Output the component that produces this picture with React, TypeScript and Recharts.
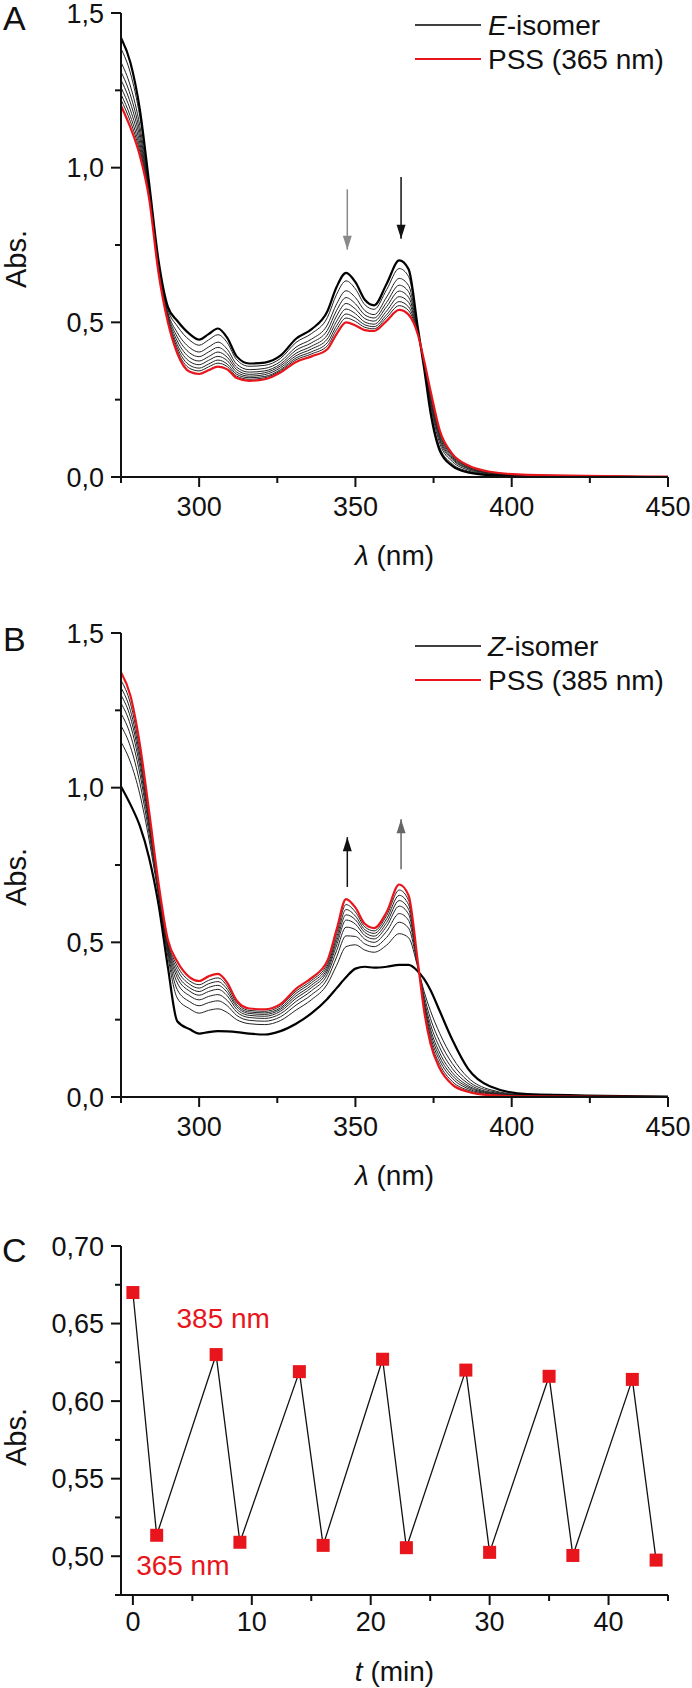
import React from 'react';
import { LineChart, Line, XAxis, YAxis, ReferenceDot } from 'recharts';

const FONT = '"Liberation Sans", Arial, Helvetica, sans-serif';
const RED = '#e8161c';
const INK = '#111111';
const FS = 27;
const LEG_FS = 28;

// ---------- shared wavelength grid (nm) ----------
const WL = [275, 278, 281, 284, 287, 290, 293, 297, 300, 303, 306, 309, 312, 316, 321, 326, 331, 336, 341, 344, 347, 350, 353, 356, 360, 364, 367, 370, 372, 374, 377, 381, 386, 393, 405, 450];

// ---------- Panel A: E-isomer -> PSS (365 nm) ----------
const A_E = [1.42, 1.34, 1.19, 0.95, 0.70, 0.55, 0.505, 0.462, 0.444, 0.462, 0.480, 0.450, 0.390, 0.367, 0.370, 0.392, 0.447, 0.478, 0.535, 0.615, 0.660, 0.630, 0.573, 0.555, 0.625, 0.700, 0.672, 0.480, 0.350, 0.210, 0.085, 0.036, 0.015, 0.006, 0.002, 0.000];
const A_MID_1 = [1.385, 1.306, 1.166, 0.942, 0.694, 0.542, 0.488, 0.442, 0.426, 0.443, 0.460, 0.434, 0.379, 0.358, 0.361, 0.383, 0.435, 0.464, 0.515, 0.591, 0.634, 0.608, 0.557, 0.542, 0.606, 0.674, 0.648, 0.477, 0.354, 0.221, 0.095, 0.042, 0.019, 0.008, 0.003, 0.000];
const A_MID_2 = [1.341, 1.264, 1.136, 0.932, 0.686, 0.532, 0.467, 0.418, 0.404, 0.420, 0.436, 0.413, 0.365, 0.347, 0.351, 0.373, 0.420, 0.446, 0.491, 0.560, 0.602, 0.580, 0.538, 0.525, 0.582, 0.642, 0.619, 0.473, 0.359, 0.235, 0.108, 0.050, 0.023, 0.010, 0.004, 0.000];
const A_MID_3 = [1.310, 1.235, 1.115, 0.925, 0.680, 0.525, 0.453, 0.401, 0.389, 0.404, 0.419, 0.399, 0.355, 0.339, 0.343, 0.365, 0.410, 0.434, 0.474, 0.539, 0.580, 0.560, 0.524, 0.514, 0.565, 0.620, 0.599, 0.470, 0.363, 0.245, 0.118, 0.056, 0.027, 0.012, 0.005, 0.000];
const A_MID_4 = [1.284, 1.210, 1.097, 0.919, 0.675, 0.519, 0.440, 0.386, 0.375, 0.389, 0.404, 0.387, 0.347, 0.332, 0.337, 0.359, 0.400, 0.423, 0.459, 0.521, 0.561, 0.543, 0.512, 0.504, 0.551, 0.601, 0.581, 0.468, 0.366, 0.253, 0.125, 0.060, 0.029, 0.013, 0.005, 0.001];
const A_MID_5 = [1.259, 1.187, 1.080, 0.913, 0.671, 0.513, 0.428, 0.373, 0.363, 0.377, 0.390, 0.376, 0.339, 0.326, 0.331, 0.353, 0.392, 0.414, 0.446, 0.504, 0.543, 0.528, 0.501, 0.494, 0.537, 0.583, 0.565, 0.465, 0.368, 0.261, 0.132, 0.064, 0.032, 0.014, 0.006, 0.001];
const A_MID_6 = [1.237, 1.166, 1.065, 0.908, 0.667, 0.508, 0.418, 0.361, 0.352, 0.365, 0.378, 0.365, 0.332, 0.321, 0.325, 0.347, 0.385, 0.405, 0.434, 0.489, 0.527, 0.514, 0.492, 0.486, 0.525, 0.567, 0.550, 0.463, 0.371, 0.268, 0.139, 0.068, 0.034, 0.015, 0.006, 0.001];
const A_MID_7 = [1.220, 1.149, 1.053, 0.904, 0.664, 0.504, 0.409, 0.351, 0.343, 0.356, 0.368, 0.357, 0.326, 0.316, 0.321, 0.343, 0.379, 0.398, 0.424, 0.477, 0.514, 0.503, 0.484, 0.479, 0.516, 0.554, 0.538, 0.462, 0.373, 0.274, 0.144, 0.071, 0.036, 0.016, 0.007, 0.001];
const A_PSS = [1.20, 1.13, 1.04, 0.90, 0.66, 0.50, 0.40, 0.34, 0.333, 0.345, 0.357, 0.348, 0.320, 0.311, 0.316, 0.338, 0.372, 0.390, 0.413, 0.463, 0.500, 0.490, 0.475, 0.472, 0.505, 0.540, 0.525, 0.460, 0.375, 0.280, 0.150, 0.075, 0.038, 0.017, 0.007, 0.001];

// ---------- Panel B: Z-isomer -> PSS (385 nm) ----------
const B_Z = [1.004, 0.946, 0.877, 0.773, 0.623, 0.420, 0.245, 0.219, 0.205, 0.210, 0.213, 0.212, 0.210, 0.205, 0.202, 0.213, 0.237, 0.271, 0.317, 0.352, 0.387, 0.415, 0.421, 0.418, 0.421, 0.427, 0.427, 0.406, 0.381, 0.346, 0.277, 0.185, 0.092, 0.035, 0.009, 0.001];
const B_MID_1 = [1.347, 1.273, 1.123, 0.912, 0.687, 0.502, 0.424, 0.375, 0.363, 0.377, 0.385, 0.358, 0.305, 0.280, 0.277, 0.294, 0.342, 0.377, 0.431, 0.529, 0.622, 0.598, 0.550, 0.537, 0.587, 0.669, 0.636, 0.431, 0.284, 0.185, 0.105, 0.050, 0.022, 0.008, 0.002, 0.000];
const B_MID_2 = [1.323, 1.250, 1.106, 0.903, 0.683, 0.496, 0.412, 0.364, 0.352, 0.366, 0.373, 0.348, 0.298, 0.275, 0.272, 0.288, 0.335, 0.370, 0.423, 0.516, 0.606, 0.585, 0.541, 0.529, 0.576, 0.652, 0.622, 0.429, 0.291, 0.196, 0.117, 0.060, 0.027, 0.010, 0.003, 0.000];
const B_MID_3 = [1.299, 1.228, 1.089, 0.893, 0.678, 0.490, 0.399, 0.353, 0.341, 0.354, 0.361, 0.338, 0.292, 0.270, 0.267, 0.283, 0.327, 0.362, 0.415, 0.504, 0.589, 0.573, 0.532, 0.520, 0.564, 0.635, 0.607, 0.428, 0.298, 0.208, 0.129, 0.069, 0.032, 0.012, 0.003, 0.000];
const B_MID_4 = [1.273, 1.203, 1.070, 0.882, 0.673, 0.484, 0.386, 0.342, 0.329, 0.341, 0.348, 0.327, 0.284, 0.264, 0.261, 0.277, 0.319, 0.354, 0.407, 0.491, 0.572, 0.559, 0.522, 0.511, 0.552, 0.617, 0.591, 0.426, 0.305, 0.220, 0.142, 0.079, 0.037, 0.014, 0.004, 0.000];
const B_MID_5 = [1.240, 1.171, 1.047, 0.869, 0.667, 0.476, 0.369, 0.327, 0.314, 0.325, 0.331, 0.312, 0.275, 0.257, 0.254, 0.269, 0.309, 0.344, 0.396, 0.474, 0.549, 0.541, 0.510, 0.500, 0.536, 0.593, 0.571, 0.423, 0.314, 0.235, 0.159, 0.092, 0.044, 0.016, 0.005, 0.000];
const B_MID_6 = [1.200, 1.133, 1.017, 0.852, 0.660, 0.467, 0.347, 0.308, 0.295, 0.305, 0.311, 0.295, 0.264, 0.248, 0.245, 0.259, 0.297, 0.331, 0.382, 0.453, 0.521, 0.519, 0.495, 0.486, 0.516, 0.565, 0.546, 0.420, 0.326, 0.254, 0.179, 0.108, 0.052, 0.020, 0.005, 0.000];
const B_MID_7 = [1.148, 1.083, 0.980, 0.831, 0.650, 0.454, 0.320, 0.285, 0.271, 0.280, 0.285, 0.273, 0.250, 0.237, 0.234, 0.247, 0.281, 0.315, 0.365, 0.426, 0.486, 0.492, 0.475, 0.468, 0.491, 0.528, 0.515, 0.417, 0.340, 0.279, 0.205, 0.128, 0.063, 0.024, 0.006, 0.000];
const B_PSS = [1.373, 1.298, 1.142, 0.923, 0.692, 0.508, 0.438, 0.387, 0.375, 0.390, 0.398, 0.369, 0.312, 0.286, 0.283, 0.300, 0.350, 0.385, 0.440, 0.542, 0.640, 0.612, 0.560, 0.546, 0.598, 0.687, 0.652, 0.433, 0.277, 0.173, 0.092, 0.040, 0.017, 0.006, 0.002, 0.000];

// ---------- arrows (x in nm, start/end Abs.) ----------
const A_ARROW_X = [347.4, 364.6];
const A_ARROW_FROM = [0.93, 0.97];
const A_ARROW_TO = [0.735, 0.77];
const B_ARROW_X = [347.4, 364.6];
const B_ARROW_FROM = [0.679, 0.736];
const B_ARROW_TO = [0.84, 0.898];

// ---------- Panel C: switching cycles ----------
const C_T = [0, 2, 7, 9, 14, 16, 21, 23, 28, 30, 35, 37, 42, 44];
const C_ABS = [0.670, 0.5135, 0.630, 0.509, 0.619, 0.507, 0.627, 0.5055, 0.620, 0.5025, 0.616, 0.5005, 0.614, 0.4975];

// ---------- ticks ----------
const SPEC_X_TICKS = [275, 300, 325, 350, 375, 400, 425, 450];
const SPEC_Y_TICKS = [0, 0.25, 0.5, 0.75, 1, 1.25, 1.5];
const C_X_TICKS = [0, 5, 10, 15, 20, 25, 30, 35, 40, 45];
const C_Y_TICKS = [0.475, 0.5, 0.525, 0.55, 0.575, 0.6, 0.625, 0.65, 0.675, 0.7];

const toPts = (xs: number[], ys: number[]) => xs.map((x, i) => ({ x, y: ys[i] }));
const comma = (d: number) => (v: number) => v.toFixed(d).replace('.', ',');
const isMult = (step: number) => (v: number) => Math.abs(v / step - Math.round(v / step)) < 1e-6;

function makeXTick(isMajor: (v: number) => boolean, fmt: (v: number) => string, labelDy: number) {
  return (props: any) => {
    const { x, y, payload } = props;
    const v = payload.value;
    const m = isMajor(v);
    return (
      <g>
        <line x1={x} y1={y} x2={x} y2={y + (m ? 10 : 6)} stroke={INK} strokeWidth={2} />
        {m ? (
          <text x={x} y={y + labelDy} textAnchor="middle" fontFamily={FONT} fontSize={FS} fill={INK}>
            {fmt(v)}
          </text>
        ) : null}
      </g>
    );
  };
}

function makeYTick(isMajor: (v: number) => boolean, fmt: (v: number) => string) {
  return (props: any) => {
    const { x, y, payload } = props;
    const v = payload.value;
    const m = isMajor(v);
    return (
      <g>
        <line x1={x} y1={y} x2={x - (m ? 10 : 6)} y2={y} stroke={INK} strokeWidth={2} />
        {m ? (
          <text x={x - 17} y={y + 9.5} textAnchor="end" fontFamily={FONT} fontSize={FS} fill={INK}>
            {fmt(v)}
          </text>
        ) : null}
      </g>
    );
  };
}

const arrowDot = (dir: 'up' | 'down', color: string) => (props: any) => {
  const { cx, cy, index } = props;
  if (index !== 1 || cx == null || cy == null) return <g key={`ad${index}`} />;
  const h = 14;
  const w = 4.5;
  const d =
    dir === 'down'
      ? `M${cx},${cy} L${cx - w},${cy - h} L${cx + w},${cy - h} Z`
      : `M${cx},${cy} L${cx - w},${cy + h} L${cx + w},${cy + h} Z`;
  return <path key={`ad${index}`} d={d} fill={color} stroke="none" />;
};

const squareDot = (props: any) => {
  const { cx, cy, index } = props;
  if (cx == null || cy == null) return <g key={`sq${index}`} />;
  return <rect key={`sq${index}`} x={cx - 6.5} y={cy - 6.5} width={13} height={13} fill={RED} />;
};

type Curve = { ys: number[]; color: string; width: number };

function SpectrumChart({ curves, arrowX, arrowFrom, arrowTo, dir, arrowColors }: {
  curves: Curve[]; arrowX: number[]; arrowFrom: number[]; arrowTo: number[]; dir: 'up' | 'down'; arrowColors: string[];
}) {
  return (
    <LineChart width={692} height={600} margin={{ top: 13, right: 24, left: 0, bottom: 0 }}>
      <XAxis
        type="number"
        dataKey="x"
        domain={[275, 450]}
        ticks={SPEC_X_TICKS}
        allowDataOverflow
        height={123}
        tickSize={0}
        tickMargin={0}
        tickLine={false}
        axisLine={{ stroke: INK, strokeWidth: 2 }}
        tick={makeXTick((v) => v % 50 === 0, (v) => String(v), 39)}
        interval={0}
      />
      <YAxis
        type="number"
        domain={[0, 1.5]}
        ticks={SPEC_Y_TICKS}
        allowDataOverflow
        width={121}
        tickSize={0}
        tickMargin={0}
        tickLine={false}
        axisLine={{ stroke: INK, strokeWidth: 2 }}
        tick={makeYTick(isMult(0.5), comma(1))}
        interval={0}
      />
      {curves.map((c, i) => (
        <Line
          key={`c${i}`}
          data={toPts(WL, c.ys)}
          dataKey="y"
          type="monotone"
          stroke={c.color}
          strokeWidth={c.width}
          dot={false}
          activeDot={false}
          isAnimationActive={false}
        />
      ))}
      {arrowX.map((ax, i) => (
        <Line
          key={`ar${i}`}
          data={[{ x: ax, y: arrowFrom[i] }, { x: ax, y: arrowTo[i] }]}
          dataKey="y"
          type="linear"
          stroke={arrowColors[i]}
          strokeWidth={1.5}
          dot={arrowDot(dir, arrowColors[i])}
          activeDot={false}
          isAnimationActive={false}
        />
      ))}
    </LineChart>
  );
}

const A_CURVES: Curve[] = [
  { ys: A_MID_1, color: '#222', width: 1 },
  { ys: A_MID_2, color: '#222', width: 1 },
  { ys: A_MID_3, color: '#222', width: 1 },
  { ys: A_MID_4, color: '#222', width: 1 },
  { ys: A_MID_5, color: '#222', width: 1 },
  { ys: A_MID_6, color: '#222', width: 1 },
  { ys: A_MID_7, color: '#222', width: 1 },
  { ys: A_E, color: '#000', width: 2.2 },
  { ys: A_PSS, color: RED, width: 2.2 },
];

const B_CURVES: Curve[] = [
  { ys: B_MID_1, color: '#222', width: 1 },
  { ys: B_MID_2, color: '#222', width: 1 },
  { ys: B_MID_3, color: '#222', width: 1 },
  { ys: B_MID_4, color: '#222', width: 1 },
  { ys: B_MID_5, color: '#222', width: 1 },
  { ys: B_MID_6, color: '#222', width: 1 },
  { ys: B_MID_7, color: '#222', width: 1 },
  { ys: B_Z, color: '#000', width: 2.2 },
  { ys: B_PSS, color: RED, width: 2.2 },
];

function CycleChart() {
  const data = toPts(C_T, C_ABS);
  return (
    <LineChart width={692} height={458} margin={{ top: 16, right: 24, left: 0, bottom: 0 }}>
      <XAxis
        type="number"
        dataKey="x"
        domain={[-1, 45]}
        ticks={C_X_TICKS}
        allowDataOverflow
        height={93}
        tickSize={0}
        tickMargin={0}
        tickLine={false}
        axisLine={{ stroke: INK, strokeWidth: 2 }}
        tick={makeXTick((v) => v % 10 === 0, (v) => String(v), 36)}
        interval={0}
      />
      <YAxis
        type="number"
        domain={[0.475, 0.7]}
        ticks={C_Y_TICKS}
        allowDataOverflow
        width={121}
        tickSize={0}
        tickMargin={0}
        tickLine={false}
        axisLine={{ stroke: INK, strokeWidth: 2 }}
        tick={makeYTick(isMult(0.05), comma(2))}
        interval={0}
      />
      <Line
        data={data}
        dataKey="y"
        type="linear"
        stroke={INK}
        strokeWidth={1.3}
        dot={squareDot}
        activeDot={false}
        isAnimationActive={false}
      />
      <ReferenceDot
        x={7.6}
        y={0.653}
        r={0}
        shape={(p: any) => (
          <text x={p.cx} y={p.cy + 9} textAnchor="middle" fontFamily={FONT} fontSize={LEG_FS} fill={RED}>385 nm</text>
        )}
      />
      <ReferenceDot
        x={4.2}
        y={0.494}
        r={0}
        shape={(p: any) => (
          <text x={p.cx} y={p.cy + 9} textAnchor="middle" fontFamily={FONT} fontSize={LEG_FS} fill={RED}>365 nm</text>
        )}
      />
    </LineChart>
  );
}

function Overlay() {
  const absLabel = (cy: number) => (
    <text x={16} y={cy} transform={`rotate(-90 16 ${cy})`} textAnchor="middle" dominantBaseline="central" fontFamily={FONT} fontSize={29} fill={INK}>
      Abs.
    </text>
  );
  const lambda = (y: number) => (
    <text x={394.5} y={y} textAnchor="middle" fontFamily={FONT} fontSize={LEG_FS} fill={INK}>
      <tspan fontStyle="italic">λ</tspan> (nm)
    </text>
  );
  const legend = (y1: number, y2: number, iso: string, pss: string) => (
    <g>
      <line x1={415} x2={481} y1={y1} y2={y1} stroke="#000" strokeWidth={1.6} />
      <text x={488} y={y1 + 10} fontFamily={FONT} fontSize={LEG_FS} fill={INK}>
        <tspan fontStyle="italic">{iso}</tspan>-isomer
      </text>
      <line x1={415} x2={481} y1={y2} y2={y2} stroke={RED} strokeWidth={2} />
      <text x={488} y={y2 + 10} fontFamily={FONT} fontSize={LEG_FS} fill={INK}>{pss}</text>
    </g>
  );
  return (
    <svg width={692} height={1688} style={{ position: 'absolute', left: 0, top: 0, pointerEvents: 'none' }}>
      <text x={3} y={30} fontFamily={FONT} fontSize={34} fill={INK}>A</text>
      <text x={3} y={651} fontFamily={FONT} fontSize={34} fill={INK}>B</text>
      <text x={2} y={1262} fontFamily={FONT} fontSize={34} fill={INK}>C</text>
      {absLabel(259)}
      {absLabel(877)}
      {absLabel(1437)}
      {lambda(565)}
      {lambda(1185)}
      <text x={394.5} y={1681} textAnchor="middle" fontFamily={FONT} fontSize={LEG_FS} fill={INK}>
        <tspan fontStyle="italic">t</tspan> (min)
      </text>
      {legend(25, 59, 'E', 'PSS (365 nm)')}
      {legend(646, 680, 'Z', 'PSS (385 nm)')}
    </svg>
  );
}

export default function App() {
  return (
    <div style={{ position: 'absolute', left: 0, top: 0, width: 692, height: 1688, background: '#fff', overflow: 'hidden' }}>
      <div style={{ position: 'absolute', left: 0, top: 0 }}>
        <SpectrumChart
          curves={A_CURVES}
          arrowX={A_ARROW_X}
          arrowFrom={A_ARROW_FROM}
          arrowTo={A_ARROW_TO}
          dir="down"
          arrowColors={['#8a8a8a', '#111']}
        />
      </div>
      <div style={{ position: 'absolute', left: 0, top: 620 }}>
        <SpectrumChart
          curves={B_CURVES}
          arrowX={B_ARROW_X}
          arrowFrom={B_ARROW_FROM}
          arrowTo={B_ARROW_TO}
          dir="up"
          arrowColors={['#111', '#666']}
        />
      </div>
      <div style={{ position: 'absolute', left: 0, top: 1230 }}>
        <CycleChart />
      </div>
      <Overlay />
    </div>
  );
}
